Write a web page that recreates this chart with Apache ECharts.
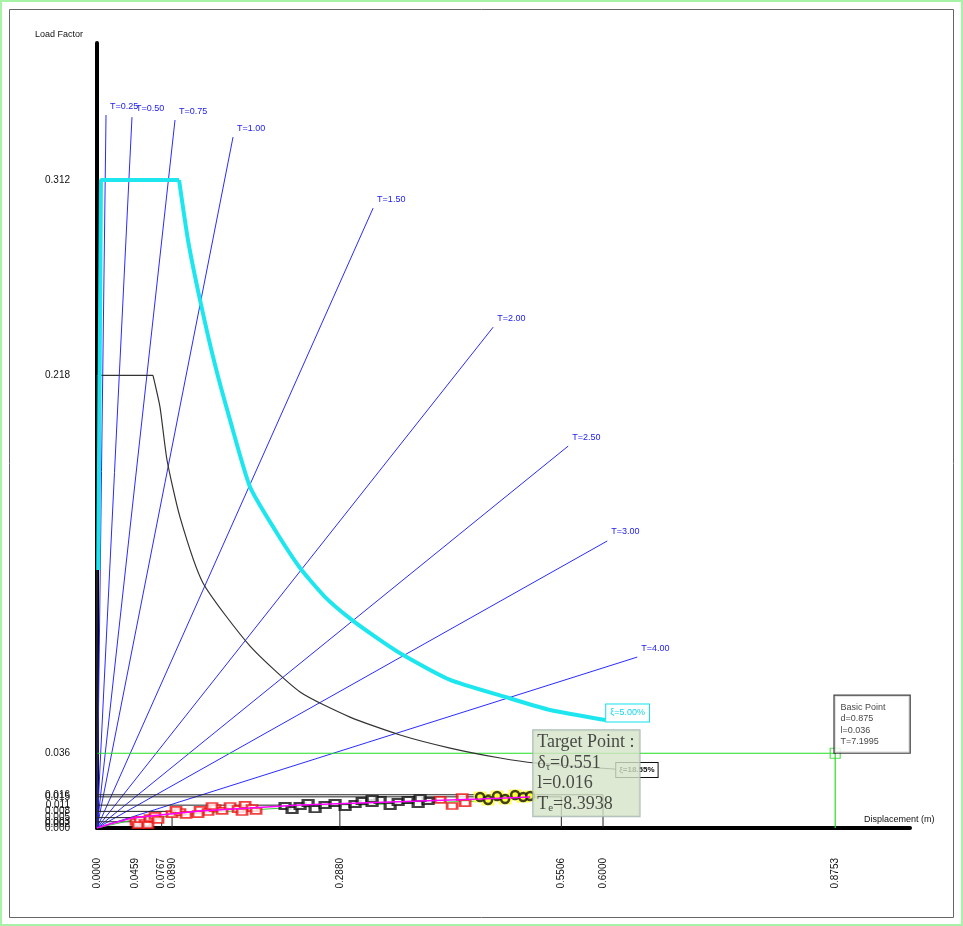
<!DOCTYPE html>
<html><head><meta charset="utf-8">
<script src="https://cdn.jsdelivr.net/npm/echarts@6/dist/echarts.min.js"></script>
<style>html,body{margin:0;padding:0;background:#fff}#c{width:963px;height:926px}</style>
</head><body><div id="c"></div>
<script>
// ---- data ----
const tPeriods = ['0.25','0.50','0.75','1.00','1.50','2.00','2.50','3.00','4.00'];
const tEndX = [0.0107,0.0415,0.0925,0.1613,0.3274,0.4698,0.5587,0.6050,0.6406];
const tEndY = [0.3433,0.3423,0.3409,0.3327,0.2985,0.2412,0.1839,0.1382,0.0823];

// demand spectrum (5% damping): plateau part and descending part
const demandPlateauX = [0.0015,0.0047,0.0973];
const demandPlateauY = [0.1242,0.312,0.312];
const demandX = [0.0973,0.1079,0.1222,0.1400,0.1578,0.1815,0.2111,0.2408,0.2705,0.3025,0.3357,0.3630,0.4187,0.4840,0.5374,0.6026];
const demandY = [0.312,0.2831,0.2542,0.2229,0.1964,0.1642,0.1435,0.1252,0.1112,0.1001,0.0905,0.0833,0.0713,0.0631,0.0568,0.0520];

// reduced spectrum
const reducedPlateauX = [0,0,0.0664];
const reducedPlateauY = [0,0.218,0.218];
const reducedX = [0.0664,0.0747,0.0830,0.0984,0.1257,0.1815,0.2408,0.3000,0.3594,0.4187,0.4781,0.5196,0.6299];
const reducedY = [0.218,0.2027,0.1772,0.1497,0.1180,0.0876,0.0655,0.0534,0.0448,0.0385,0.0337,0.0313,0.0279];

const stepY = [0.0160,0.0150,0.0110,0.0080,0.0050,0.0030];
const stepX = [0.6000,0.5506,0.2880,0.0890,0.0767,0.0459];

const capX = [0,0.0154,0.0415,0.0747,0.1222,0.1815,0.2408,0.3120,0.3831,0.4542,0.5136];
const capY = [0,0.0019,0.0048,0.0063,0.0082,0.0096,0.0111,0.0120,0.0130,0.0140,0.0149];
const cap2X = [0,0.0415,0.1222,0.2408,0.3831,0.4542];
const cap2Y = [0,0.0038,0.0072,0.0101,0.0121,0.0130];

const redX = [0.0463,0.0510,0.0569,0.0629,0.0688,0.0486,0.0605,0.0723,0.0890,0.0984,0.1056,0.0937,0.1222,0.1317,0.1400,0.1483,0.1578,0.1673,0.1756,0.1838,0.1364,0.1198,0.1720,0.1886,0.4069,0.4211,0.4330,0.4365];
const redY = [0.0029,0.0039,0.0024,0.0048,0.0058,0.0014,0.0014,0.0039,0.0067,0.0077,0.0063,0.0087,0.0087,0.0077,0.0096,0.0082,0.0106,0.0091,0.0111,0.0096,0.0106,0.0067,0.0077,0.0082,0.0135,0.0106,0.0149,0.0120];
const blackX = [0.2230,0.2313,0.2408,0.2503,0.2586,0.2705,0.2823,0.2942,0.3060,0.3144,0.3262,0.3357,0.3476,0.3571,0.3689,0.3808,0.3926,0.3831,0.3262];
const blackY = [0.0106,0.0087,0.0106,0.0120,0.0091,0.0111,0.0120,0.0101,0.0116,0.0130,0.0120,0.0135,0.0106,0.0125,0.0135,0.0116,0.0130,0.0144,0.0140];
const yellowX = [0.4542,0.4637,0.4744,0.4839,0.4958,0.5053,0.5136];
const yellowY = [0.0149,0.0135,0.0154,0.0140,0.0159,0.0149,0.0154];

const basicPoint = [0.8753,0.036];
const basicText = ['Basic Point','d=0.875','l=0.036','T=7.1995'];
const targetPoint = [0.551,0.016];
const targetVals = {d:'0.551', l:'0.016', T:'8.3938'};

const xTicks = [0,0.0008,0.0459,0.0767,0.0890,0.2880,0.5506,0.6000,0.8753];
const yTicks = [0,0.001,0.002,0.003,0.005,0.008,0.011,0.015,0.016,0.036,0.218,0.312];

const zip = (a,b) => a.map((v,i)=>[v,b[i]]);
const FONT = 'Liberation Sans, Arial, sans-serif';

const series = [];
tPeriods.forEach((t,i)=>{
  series.push({type:'line', data:[[0,0],[tEndX[i],tEndY[i]]], symbol:'none', silent:true,
    lineStyle:{color:'#2a2aff', width:1}, z:2,
    endLabel:{show:true, formatter:'T='+t, color:'#2020ee', fontSize:9, fontFamily:FONT, distance:4, offset:[0,-9]}});
});
stepY.forEach((y,i)=>{
  series.push({type:'line', data:[[0,y],[stepX[i],y],[stepX[i],0]], symbol:'none', silent:true,
    lineStyle:{color:'#222', width:1}, z:3});
});
series.push({type:'line', data:[[0,basicPoint[1]],basicPoint,[basicPoint[0],0]], symbol:'none',
  lineStyle:{color:'#22e022', width:1.2}, z:3});
series.push({type:'line', data:zip(reducedPlateauX,reducedPlateauY), symbol:'none',
  lineStyle:{color:'#333', width:1.2}, z:4});
series.push({type:'line', data:zip(reducedX,reducedY), symbol:'none', smooth:0.2,
  lineStyle:{color:'#333', width:1.2}, z:4,
  endLabel:{show:true, formatter:'ξ=18.55%', color:'#111', fontSize:8, fontWeight:'bold', fontFamily:FONT,
    borderColor:'#111', borderWidth:1, backgroundColor:'#fff', padding:[3,3], distance:0, offset:[-12,0]}});
series.push({type:'line', data:zip(demandPlateauX,demandPlateauY), symbol:'none',
  lineStyle:{color:'#1ee6ef', width:4}, z:5});
series.push({type:'line', data:zip(demandX,demandY), symbol:'none', smooth:0.2,
  lineStyle:{color:'#1ee6ef', width:4}, z:5,
  endLabel:{show:true, formatter:'ξ=5.00%', color:'#10d8e8', fontSize:9, fontFamily:FONT,
    borderColor:'#10e0ee', borderWidth:1, backgroundColor:'#fff', padding:[4,4], distance:1, offset:[0,-7]}});
series.push({type:'line', data:zip(cap2X,cap2Y), symbol:'none', lineStyle:{color:'#33cc33', width:1}, z:6});
series.push({type:'scatter', data:zip(redX,redY), symbol:'rect', symbolSize:[10,6], z:7,
  itemStyle:{color:'#fff', borderColor:'#ee1111', borderWidth:2.2}});
series.push({type:'scatter', data:zip(blackX,blackY), symbol:'rect', symbolSize:[10,6], z:7,
  itemStyle:{color:'#fff', borderColor:'#111', borderWidth:2.5}});
series.push({type:'scatter', data:zip(yellowX,yellowY), symbol:'rect', symbolSize:[13,11], z:7,
  itemStyle:{color:'#ffff33'}});
series.push({type:'scatter', data:zip(yellowX,yellowY), symbol:'circle', symbolSize:8, z:8,
  itemStyle:{color:'#ffff33', borderColor:'#111', borderWidth:2.5}});
series.push({type:'line', data:zip(capX,capY), symbol:'none', lineStyle:{color:'#ff00ff', width:1.5}, z:9});
series.push({type:'scatter', data:[basicPoint], symbol:'rect', symbolSize:10, z:10,
  itemStyle:{color:'rgba(0,0,0,0)', borderColor:'#22dd22', borderWidth:1.2},
  label:{show:true, position:[5,5], align:'left', verticalAlign:'bottom', formatter:basicText.join('\n'),
    color:'#111', fontSize:9, fontFamily:FONT, lineHeight:11.5, backgroundColor:'#fff',
    borderColor:'#111', borderWidth:1.2, padding:[6,24,5,6]}});
series.push({type:'scatter', data:[targetPoint], symbolSize:1, z:20, zlevel:1,
  itemStyle:{color:'rgba(0,0,0,0)'},
  label:{show:true, position:[-28,-64], align:'left', verticalAlign:'top',
    backgroundColor:'#d5e3c8', borderColor:'#9aa',borderWidth:1, padding:[2,5,2,4],
    formatter:'{t|Target Point :}\n{t|δ}{s|τ}{t|='+targetVals.d+'}\n{t|l='+targetVals.l+'}\n{t|T}{s|e}{t|='+targetVals.T+'}',
    rich:{t:{fontSize:18, fontFamily:'Liberation Serif, Times New Roman, serif', color:'#222', lineHeight:20.5},
          s:{fontSize:11, fontFamily:'Liberation Serif, Times New Roman, serif', color:'#222', lineHeight:20.5, padding:[9,0,0,0]}}}});

const chart = echarts.init(document.getElementById('c'), null, {renderer:'canvas'});
chart.setOption({
  animation:false,
  backgroundColor:'#fff',
  grid:{left:97, right:53, top:43, bottom:98, containLabel:false, outerBoundsMode:'none'},
  xAxis:{type:'value', min:0, max:0.964, splitLine:{show:false}, axisTick:{show:false},
    axisLine:{show:true, onZero:false, lineStyle:{color:'#000', width:4}},
    axisLabel:{customValues:xTicks, showMinLabel:true, rotate:90, margin:30, fontSize:10, color:'#111', fontFamily:FONT,
      formatter:v=>v.toFixed(4)}},
  yAxis:{type:'value', min:0, max:0.378, splitLine:{show:false}, axisTick:{show:false},
    axisLine:{show:true, onZero:false, lineStyle:{color:'#000', width:4}},
    axisLabel:{customValues:yTicks, showMinLabel:true, margin:27, fontSize:10, color:'#111', fontFamily:FONT,
      formatter:v=>v.toFixed(3)}},
  graphic:[
    {type:'rect', shape:{x:1, y:1, width:961, height:924}, style:{fill:'none', stroke:'#a6f2a6', lineWidth:2}, silent:true},
    {type:'rect', shape:{x:9.5, y:9.5, width:944, height:908}, style:{fill:'none', stroke:'#666', lineWidth:1}, silent:true},
    {type:'text', left:35, top:30, style:{text:'Load Factor', fontSize:9, fontFamily:FONT, fill:'#111'}},
    {type:'text', left:864, top:815, style:{text:'Displacement (m)', fontSize:9, fontFamily:FONT, fill:'#111'}}
  ],
  series:series
});
</script></body></html>
